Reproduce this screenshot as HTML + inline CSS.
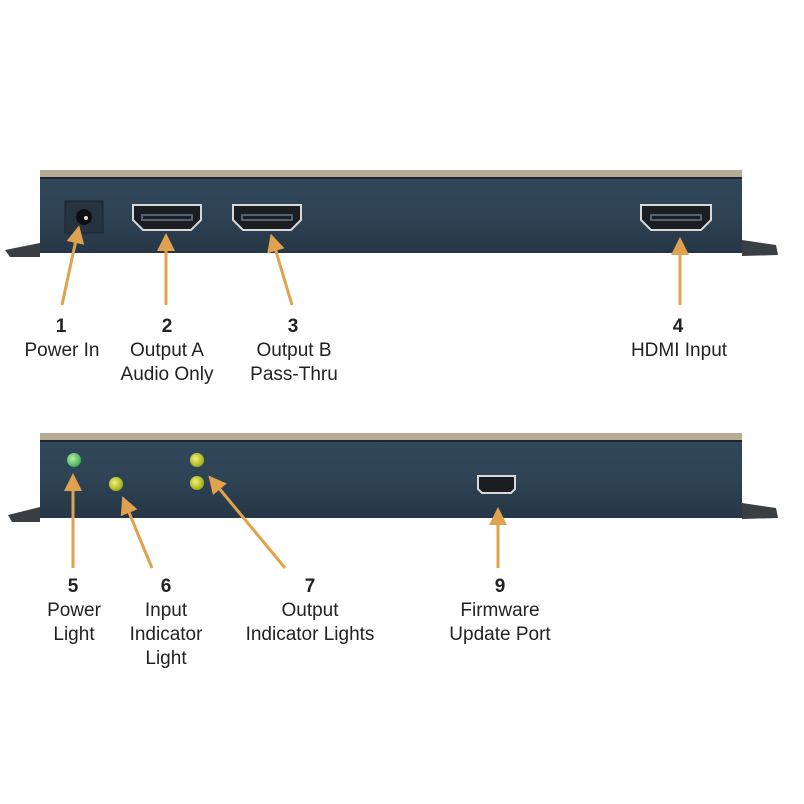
<!DOCTYPE html>
<html><head><style>
html,body{margin:0;padding:0;background:#fff;}
svg{display:block;}
text{font-family:"Liberation Sans",Arial,sans-serif;fill:#222;}
.n{font-weight:bold;font-size:19px;}
.t{font-size:19px;}
</style></head><body>
<svg width="804" height="804" viewBox="0 0 804 804" xmlns="http://www.w3.org/2000/svg">
<defs>
<linearGradient id="body" x1="0" y1="0" x2="0" y2="1">
<stop offset="0" stop-color="#31475a"/><stop offset="0.5" stop-color="#2e4354"/><stop offset="1" stop-color="#263646"/>
</linearGradient>
<radialGradient id="g" cx="0.4" cy="0.4" r="0.6"><stop offset="0" stop-color="#b8f0b0"/><stop offset="1" stop-color="#3fb050"/></radialGradient>
<radialGradient id="y" cx="0.4" cy="0.4" r="0.6"><stop offset="0" stop-color="#f0f080"/><stop offset="1" stop-color="#a0b010"/></radialGradient>
<marker id="ah" markerWidth="6" markerHeight="6" refX="1" refY="3" orient="auto" markerUnits="strokeWidth">
<path d="M0,0 L6,3 L0,6 z" fill="#e0a24c"/></marker>
</defs>

<!-- top device -->
<path d="M5,250 L40,243 L40,257 L10,257 Z" fill="#3a3f44"/>
<path d="M742,240 L776,245 L778,255 L742,256 Z" fill="#3a3f44"/>
<rect x="40" y="170" width="702" height="9" fill="#b8ab95"/>
<rect x="40" y="177" width="702" height="76" fill="url(#body)"/>
<rect x="40" y="177" width="702" height="2" fill="#1c2630"/>
<rect x="65" y="201" width="38" height="32" fill="#27343f" stroke="#1b242c"/>
<circle cx="84" cy="217" r="8" fill="#0c0f12"/><circle cx="86" cy="218" r="2" fill="#ddd"/>
<g fill="#1a1e22" stroke="#d8d8d8" stroke-width="2">
<path d="M133,205 h68 v15 l-10,10 h-48 l-10,-10 z"/>
<path d="M233,205 h68 v15 l-10,10 h-48 l-10,-10 z"/>
<path d="M641,205 h70 v15 l-10,10 h-50 l-10,-10 z"/>
</g>
<g fill="none" stroke="#556070" stroke-width="2">
<path d="M142,215 h50 v5 h-50 z"/>
<path d="M242,215 h50 v5 h-50 z"/>
<path d="M651,215 h50 v5 h-50 z"/>
</g>

<!-- bottom device -->
<path d="M8,515 L40,507 L40,522 L12,522 Z" fill="#3a3f44"/>
<path d="M742,503 L776,508 L778,518 L742,519 Z" fill="#3a3f44"/>
<rect x="40" y="433" width="702" height="9" fill="#b8ab95"/>
<rect x="40" y="440" width="702" height="78" fill="url(#body)"/>
<rect x="40" y="440" width="702" height="2" fill="#1c2630"/>
<circle cx="74" cy="460" r="7" fill="url(#g)"/>
<circle cx="116" cy="484" r="7" fill="url(#y)"/>
<circle cx="197" cy="460" r="7" fill="url(#y)"/>
<circle cx="197" cy="483" r="7" fill="url(#y)"/>
<path d="M478,476 h37 v13 l-4,4 h-29 l-4,-4 z" fill="#1a1e22" stroke="#d8d8d8" stroke-width="2"/>

<!-- arrows -->
<g stroke="#e0a24c" stroke-width="3" fill="none" marker-end="url(#ah)">
<line x1="62" y1="305" x2="76" y2="240"/>
<line x1="166" y1="305" x2="166" y2="248"/>
<line x1="292" y1="305" x2="275" y2="248"/>
<line x1="680" y1="305" x2="680" y2="252"/>
<line x1="73" y1="568" x2="73" y2="488"/>
<line x1="152" y1="568" x2="128" y2="510"/>
<line x1="285" y1="568" x2="218" y2="487"/>
<line x1="498" y1="568" x2="498" y2="522"/>
</g>

<!-- labels -->
<g text-anchor="middle">
<text class="n" x="61" y="332">1</text><text class="t" x="62" y="356">Power In</text>
<text class="n" x="167" y="332">2</text><text class="t" x="167" y="356">Output A</text><text class="t" x="167" y="380">Audio Only</text>
<text class="n" x="293" y="332">3</text><text class="t" x="294" y="356">Output B</text><text class="t" x="294" y="380">Pass-Thru</text>
<text class="n" x="678" y="332">4</text><text class="t" x="679" y="356">HDMI Input</text>
<text class="n" x="73" y="592">5</text><text class="t" x="74" y="616">Power</text><text class="t" x="74" y="640">Light</text>
<text class="n" x="166" y="592">6</text><text class="t" x="166" y="616">Input</text><text class="t" x="166" y="640">Indicator</text><text class="t" x="166" y="664">Light</text>
<text class="n" x="310" y="592">7</text><text class="t" x="310" y="616">Output</text><text class="t" x="310" y="640">Indicator Lights</text>
<text class="n" x="500" y="592">9</text><text class="t" x="500" y="616">Firmware</text><text class="t" x="500" y="640">Update Port</text>
</g>
</svg>
</body></html>
